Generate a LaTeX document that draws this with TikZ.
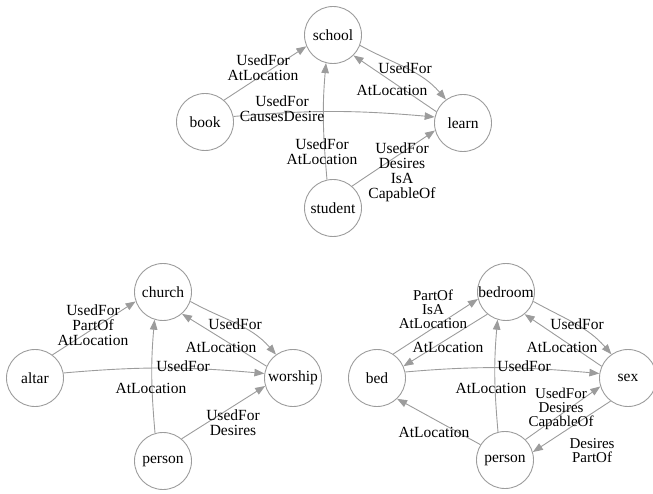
\documentclass[tikz,border=0pt]{standalone}
\usepackage{fontspec}
\setmainfont{Liberation Serif}
\usetikzlibrary{arrows.meta}
\definecolor{linegray}{HTML}{9C9C9C}

\tikzset{
  concept/.style={circle, draw=linegray, line width=0.9pt, minimum size=57pt, inner sep=0pt,
    font=\fontsize{15.5}{15}\selectfont},
  rel/.style={draw=linegray, line width=0.9pt, -{Triangle[length=10pt,width=7.5pt]}},
  rellabel/.style={align=center, inner sep=0pt, font=\fontsize{15.5}{15}\selectfont},
  tightlabel/.style={rellabel, font=\fontsize{15}{14}\selectfont}
}

\begin{document}
\begin{tikzpicture}[x=1pt, y=-1pt]
    \useasboundingbox (0,0) rectangle (653,494);

    % Top graph
    \node[concept] (school) at (333,35) {school};
    \node[concept] (book) at (205,122) {book};
    \node[concept] (learn) at (463,123) {learn};
    \node[concept] (student) at (333,208) {student};

    \draw[rel] (book.49) -- (school.203);
    \draw[rel] (school.-21) to[out=-29, in=131] (learn.126);
    \draw[rel] (learn.157) -- (school.-45);
    \draw[rel] (book.11) to[out=5, in=175] (learn.168);
    \draw[rel] (student.102) to[out=95, in=265] (school.256);
    \draw[rel] (student.49) -- (learn.195);

    \node[rellabel] (bookschool) at (263,68) {UsedFor\\AtLocation};
    \node[rellabel] (schoollearn) at (405,68) {UsedFor};
    \node[rellabel] (learnschool) at (392,90) {AtLocation};
    \node[rellabel] (booklearn) at (282,109) {UsedFor\\CausesDesire};
    \node[rellabel] (studentschool) at (322,152) {UsedFor\\AtLocation};
    \node[rellabel] (studentlearn) at (402,172) {UsedFor\\Desires\\IsA\\CapableOf};

    % Bottom left graph
    \node[concept] (church) at (163,292) {church};
    \node[concept] (altar) at (35,378) {altar};
    \node[concept] (worship) at (293,378) {worship};
    \node[concept] (personA) at (163,461) {person};

    \draw[rel] (altar.53) -- (church.199);
    \draw[rel] (church.-19) to[out=-29, in=131] (worship.126);
    \draw[rel] (worship.156) -- (church.-49);
    \draw[rel] (altar.10) to[out=5, in=175] (worship.171);
    \draw[rel] (personA.106) to[out=95, in=265] (church.253);
    \draw[rel] (personA.50) -- (worship.196);

    \node[rellabel] (altarchurch) at (93,325) {UsedFor\\PartOf\\AtLocation};
    \node[rellabel] (churchworship) at (235,324) {UsedFor};
    \node[rellabel] (worshipchurch) at (221,347) {AtLocation};
    \node[rellabel] (altarworship) at (183,366) {UsedFor};
    \node[rellabel] (personchurch) at (151,388) {AtLocation};
    \node[rellabel] (personworship) at (233,423) {UsedFor\\Desires};

    % Bottom right graph
    \node[concept] (bedroom) at (506,292) {bedroom};
    \node[concept] (bed) at (377,378) {bed};
    \node[concept] (sex) at (628,378) {sex};
    \node[concept] (personB) at (505,460) {person};

    \draw[rel] (bed.56) -- (bedroom.194);
    \draw[rel] (bedroom.230) -- (bed.24);
    \draw[rel] (bedroom.-19) to[out=-29, in=131] (sex.125);
    \draw[rel] (sex.156) -- (bedroom.-50);
    \draw[rel] (bed.12) to[out=5, in=175] (sex.171);
    \draw[rel] (personB.104) to[out=95, in=265] (bedroom.253);
    \draw[rel] (personB.148) -- (bed.-46);
    \draw[rel] (personB.45) -- (sex.197);
    \draw[rel] (sex.233) -- (personB.16);

    \node[tightlabel] (bedbedroom) at (433,309) {PartOf\\IsA\\AtLocation};
    \node[rellabel] (bedroombed) at (448,347) {AtLocation};
    \node[rellabel] (bedroomsex) at (577,324) {UsedFor};
    \node[rellabel] (sexbedroom) at (562,347) {AtLocation};
    \node[rellabel] (bedsex) at (524,366) {UsedFor};
    \node[rellabel] (personbedroom) at (491,388) {AtLocation};
    \node[rellabel] (personbed) at (434,432) {AtLocation};
    \node[tightlabel] (personsex) at (561,409) {UsedFor\\Desires\\CapableOf};
    \node[tightlabel] (sexperson) at (592,451) {Desires\\PartOf};
\end{tikzpicture}
\end{document}
